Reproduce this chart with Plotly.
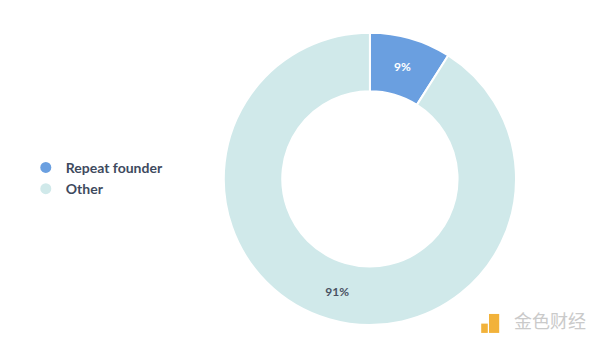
import plotly.graph_objects as go

categories = ["Repeat founder", "Other"]
values = [9, 91]
colors = ["#6A9FE0", "#D0E9EA"]
text_colors = ["#FFFFFF", "#4A5263"]

fig = go.Figure()
fig.add_trace(go.Pie(
    labels=categories, values=values, hole=0.6, sort=False,
    direction="clockwise", rotation=0,
    marker=dict(colors=colors, line=dict(color="white", width=2)),
    textinfo="percent", textposition="inside", insidetextorientation="horizontal",
    textfont=dict(family="Lato", size=12, color=text_colors, weight="bold"),
    showlegend=False, hoverinfo="label+percent",
    domain=dict(x=[0.373, 0.86], y=[0.058, 0.905]),
))
for c, col in zip(categories, colors):
    fig.add_trace(go.Scatter(
        x=[None], y=[None], mode="markers", name=c,
        marker=dict(symbol="circle", size=11, color=col),
    ))

fig.add_annotation(text="金色财经", xref="paper", yref="paper", x=0.98, y=0.03,
                   xanchor="right", yanchor="bottom", showarrow=False,
                   font=dict(family="Noto Sans CJK SC", size=18, color="#CACACA"))
fig.add_shape(type="rect", xref="paper", yref="paper", x0=0.815, x1=0.832, y0=0.035, y1=0.09,
              fillcolor="#F2B23A", line=dict(width=0))
fig.add_shape(type="rect", xref="paper", yref="paper", x0=0.802, x1=0.813, y0=0.035, y1=0.062,
              fillcolor="#F2B23A", line=dict(width=0))

fig.update_layout(
    width=600, height=345, margin=dict(l=0, r=0, t=0, b=0),
    paper_bgcolor="white", plot_bgcolor="white",
    xaxis=dict(visible=False), yaxis=dict(visible=False),
    legend=dict(x=0.043, y=0.483, xanchor="left", yanchor="middle",
                font=dict(family="Lato", size=14, color="#3E4A5E", weight="bold"),
                itemwidth=30, tracegroupgap=0),
)
fig.write_html("out.html")
